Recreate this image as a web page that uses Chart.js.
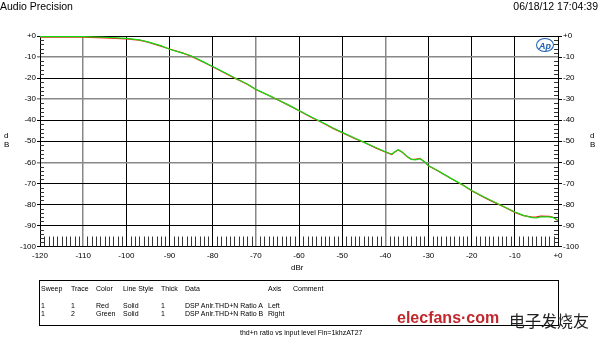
<!DOCTYPE html>
<html>
<head>
<meta charset="utf-8">
<script src="https://cdn.jsdelivr.net/npm/chart.js@4"></script>
<style>
  body { margin: 0; background: #fff; }
  #wrap { position: relative; width: 600px; height: 338px; font-family: "Liberation Sans", Arial, sans-serif; color: #000; }
  #c { position: absolute; left: 0; top: 0; }
  .t { position: absolute; white-space: nowrap; }
  #legend { position: absolute; left: 39px; top: 280px; width: 520px; height: 46px; border: 1px solid #000; box-sizing: border-box; font-size: 7px; }
  #legend span { position: absolute; white-space: nowrap; }
  #logo { position: absolute; left: 536px; top: 38px; width: 18px; height: 14px; border: 1.5px solid #1a5fb4; border-radius: 50%; color: #1a5fb4; font: italic bold 9px "Liberation Sans"; text-align: center; line-height: 14px; box-sizing: border-box; }
</style>
</head>
<body>
<div id="wrap">
  <canvas id="c" width="600" height="338"></canvas>
  <div class="t" style="left:0;top:0;font-size:10.5px;">Audio Precision</div>
  <div class="t" style="right:2px;top:0;font-size:10.5px;">06/18/12 17:04:39</div>
  <div class="t" style="left:4px;top:131px;font-size:8px;line-height:9px;">d<br>B</div>
  <div class="t" style="left:590px;top:131px;font-size:8px;line-height:9px;">d<br>B</div>
  <div class="t" style="left:291px;top:263px;font-size:8px;">dBr</div>
  <div id="logo">Ap</div>
  <div id="legend">
    <span style="left:1px;top:4px;">Sweep</span>
    <span style="left:31px;top:4px;">Trace</span>
    <span style="left:56px;top:4px;">Color</span>
    <span style="left:83px;top:4px;">Line Style</span>
    <span style="left:121px;top:4px;">Thick</span>
    <span style="left:145px;top:4px;">Data</span>
    <span style="left:228px;top:4px;">Axis</span>
    <span style="left:253px;top:4px;">Comment</span>
    <span style="left:1px;top:21px;">1</span>
    <span style="left:31px;top:21px;">1</span>
    <span style="left:56px;top:21px;">Red</span>
    <span style="left:83px;top:21px;">Solid</span>
    <span style="left:121px;top:21px;">1</span>
    <span style="left:145px;top:21px;">DSP Anlr.THD+N Ratio A</span>
    <span style="left:228px;top:21px;">Left</span>
    <span style="left:1px;top:29px;">1</span>
    <span style="left:31px;top:29px;">2</span>
    <span style="left:56px;top:29px;">Green</span>
    <span style="left:83px;top:29px;">Solid</span>
    <span style="left:121px;top:29px;">1</span>
    <span style="left:145px;top:29px;">DSP Anlr.THD+N Ratio B</span>
    <span style="left:228px;top:29px;">Right</span>
  </div>
  <div class="t" style="left:240px;top:329px;font-size:7px;">thd+n ratio vs input level Fin=1khzAT27</div>
  <div class="t" style="left:397px;top:309px;font:bold 16px 'Liberation Sans';color:#c0282e;">elecfans·com</div>
  <div class="t" style="left:509px;top:308px;font:16px 'Noto Sans CJK SC';color:#222;">电子发烧友</div>
</div>
<script>
// input level (dBr)
const levels = [-120, -115, -110, -105, -100, -97, -95, -92, -90, -87, -85, -82, -80, -77, -75, -72, -70,
  -67, -65, -62, -60, -57, -55, -52, -50, -47, -45, -42, -40, -39, -38.5, -38, -37, -36, -35, -34, -33,
  -32, -31, -30, -28, -25, -22, -20, -17, -15, -12, -10, -8, -6, -5, -4, -2, -1, 0];
// trace 1 (red, left axis)
const ratioA = [-0.6, -0.4, -0.5, -0.9, -1.4, -2.0, -2.9, -4.8, -6.2, -8.0, -9.6, -12.6, -14.6, -17.8, -19.9, -22.9, -25.4,
  -28.3, -30.3, -33.4, -35.5, -38.8, -40.7, -44.0, -45.9, -48.8, -50.5, -53.4, -55.1, -55.9, -56.3, -55.4, -54.1, -55.4, -57.3, -58.5, -58.6,
  -58.1, -59.7, -61.7, -63.9, -67.5, -70.9, -73.5, -76.8, -78.8, -81.7, -83.8, -85.3, -86.0, -85.9, -85.6, -85.7, -86.2, -87.6];
// trace 2 (green, right axis)
const ratioB = [-0.3, -0.3, -0.3, -0.6, -1.1, -1.8, -2.8, -4.6, -6.3, -8.1, -9.4, -12.4, -14.5, -17.6, -19.8, -22.8, -25.3,
  -28.2, -30.2, -33.2, -35.4, -38.6, -40.6, -43.8, -45.8, -48.6, -50.4, -53.2, -55.0, -55.8, -56.1, -55.2, -54.0, -55.2, -57.2, -58.6, -58.8,
  -58.3, -59.6, -61.6, -63.8, -67.4, -70.8, -73.4, -76.6, -78.6, -81.6, -83.6, -85.2, -86.3, -86.4, -85.9, -85.9, -86.3, -87.7];

const grayX = [-110, -70, -40];
const grayY = [-10, -30, -60];

Chart.defaults.font.family = '"Liberation Sans", Arial, sans-serif';
Chart.defaults.font.size = 8;
Chart.defaults.color = '#000';

const fmt = v => (v === 0 ? '+0' : String(v));

// small ticks that AP plots draw inside the frame
const minorTicks = {
  id: 'minorTicks',
  afterDatasetsDraw(chart) {
    const { ctx, chartArea: a, scales } = chart;
    ctx.save();
    ctx.strokeStyle = '#333';
    ctx.lineWidth = 1;
    ctx.beginPath();
    for (let v = -119; v < 0; v++) {
      if (v % 10 === 0) continue;
      const x = Math.round(scales.x.getPixelForValue(v)) + 0.5;
      ctx.moveTo(x, a.bottom);
      ctx.lineTo(x, a.bottom - 10);
    }
    for (let v = -98; v < 0; v += 2) {
      if (v % 10 === 0) continue;
      const y = Math.round(scales.y.getPixelForValue(v)) + 0.5;
      ctx.moveTo(a.left, y);
      ctx.lineTo(a.left + 4, y);
      ctx.moveTo(a.right, y);
      ctx.lineTo(a.right - 4, y);
    }
    ctx.stroke();
    ctx.restore();
  }
};

new Chart(document.getElementById('c'), {
  type: 'line',
  data: {
    labels: levels,
    datasets: [{
      label: 'DSP Anlr.THD+N Ratio B',
      data: levels.map((x, i) => ({ x: x, y: ratioB[i] })),
      borderColor: '#10dd10',
      borderWidth: 1.2,
      pointRadius: 0,
      yAxisID: 'y2'
    }, {
      label: 'DSP Anlr.THD+N Ratio A',
      data: levels.map((x, i) => ({ x: x, y: ratioA[i] })),
      borderColor: '#ff1a1a',
      borderWidth: 1.2,
      pointRadius: 0,
      yAxisID: 'y'
    }]
  },
  options: {
    responsive: false,
    animation: false,
    layout: { padding: { top: 36, left: 0, right: 0, bottom: 0 } },
    plugins: { legend: { display: false }, tooltip: { enabled: false } },
    scales: {
      x: {
        type: 'linear',
        min: -120,
        max: 0,
        afterFit(s) { s.height = 91.5; },
        ticks: { stepSize: 10, padding: 4, callback: fmt, maxRotation: 0 },
        grid: {
          color: ctx => (grayX.includes(ctx.tick.value) ? '#888' : '#000'),
          lineWidth: ctx => (grayX.includes(ctx.tick.value) ? 1.5 : 1),
          drawTicks: false
        },
        border: { color: '#000', width: 1 }
      },
      y: {
        position: 'left',
        min: -100,
        max: 0,
        afterFit(s) { s.width = 40; },
        ticks: { stepSize: 10, padding: 1, callback: fmt },
        grid: {
          color: ctx => (grayY.includes(ctx.tick.value) ? '#888' : '#000'),
          lineWidth: ctx => (grayY.includes(ctx.tick.value) ? 1.5 : 1),
          tickLength: 3
        },
        border: { color: '#000', width: 1 }
      },
      y2: {
        position: 'right',
        min: -100,
        max: 0,
        afterFit(s) { s.width = 42; },
        ticks: { stepSize: 10, padding: 1, callback: fmt },
        grid: { drawOnChartArea: false, color: '#000', tickLength: 4 },
        border: { color: '#000', width: 1 }
      }
    }
  },
  plugins: [minorTicks]
});
</script>
</body>
</html>
